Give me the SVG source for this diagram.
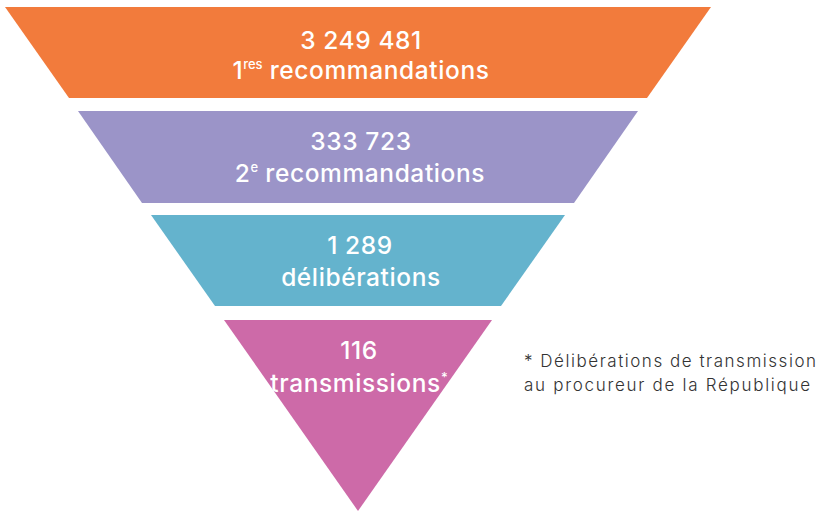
<svg xmlns="http://www.w3.org/2000/svg" width="816" height="511" viewBox="0 0 816 511">
<style>
.lbl{font-family:Inter,"Open Sans","Liberation Sans",sans-serif;font-size:24.5px;fill:#fff;text-anchor:middle;font-weight:500;letter-spacing:0.6px}
.sup{font-size:13px;letter-spacing:0}
.note{font-family:Inter,"Open Sans","Liberation Sans",sans-serif;font-size:17px;fill:#333;font-weight:300}
</style>
<rect width="816" height="511" fill="#fff"/>
<g id="level1">
<polygon points="5,7 711,7 647,98 69,98" fill="#F27B3C"/>
<text class="lbl" x="361" y="49">3 249 481</text>
<text class="lbl" x="361" y="79">1<tspan class="sup" dy="-10">res</tspan><tspan dy="10"> recommandations</tspan></text>
</g>
<g id="level2">
<polygon points="78,111 638,111 574,203 142,203" fill="#9B94C8"/>
<text class="lbl" x="361" y="150">333 723</text>
<text class="lbl" x="360" y="182">2<tspan class="sup" dy="-10">e</tspan><tspan dy="10"> recommandations</tspan></text>
</g>
<g id="level3">
<polygon points="151,215 565,215 501,306 215,306" fill="#64B3CD"/>
<text class="lbl" x="360" y="254">1 289</text>
<text class="lbl" x="361" y="286">délibérations</text>
</g>
<g id="level4">
<polygon points="224,320 492,320 358,511" fill="#CD6AA8"/>
<text class="lbl" x="359" y="359">116</text>
<text class="lbl" x="359" y="392">transmissions<tspan class="sup" dy="-10">*</tspan></text>
</g>
<g id="footnote">
<text class="note" x="524" y="367" textLength="292" lengthAdjust="spacing">* Délibérations de transmission</text>
<text class="note" x="524" y="391" textLength="286" lengthAdjust="spacing">au procureur de la République</text>
</g>
</svg>
